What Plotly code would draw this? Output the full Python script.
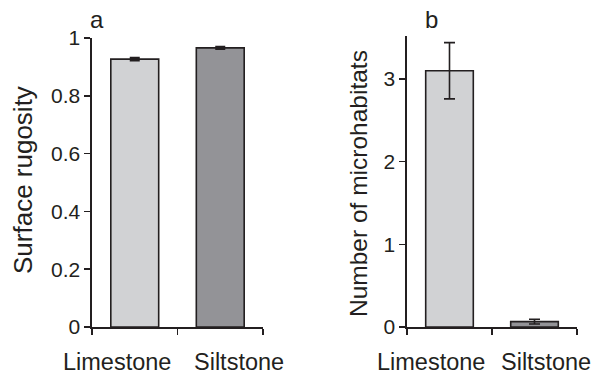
import plotly.graph_objects as go

categories = ["Limestone", "Siltstone"]
rugosity = [0.927, 0.966]
rugosity_err = [0.004, 0.003]
microhabitats = [3.10, 0.065]
microhabitats_err = [0.34, 0.028]
rugosity_ticks = [0, 0.2, 0.4, 0.6, 0.8, 1]
rugosity_ticktext = ["0", "0.2", "0.4", "0.6", "0.8", "1"]
micro_ticks = [0, 1, 2, 3]
bar_colors = ["#d1d2d4", "#939397"]

W, H = 596, 374
FONT = "Liberation Sans, Arial, Helvetica, sans-serif"
INK = "#231f20"


def px_x(a, b):
    return [a / W, b / W]


def px_y(top, bottom):
    return [(H - bottom) / H, (H - top) / H]


fig = go.Figure()

fig.add_trace(go.Bar(
    x=categories, y=rugosity, width=0.56,
    marker=dict(color=bar_colors, line=dict(color=INK, width=1.6)),
    error_y=dict(type="data", array=rugosity_err, color=INK, thickness=2.5, width=5),
    xaxis="x", yaxis="y", showlegend=False,
))
fig.add_trace(go.Bar(
    x=categories, y=microhabitats, width=0.56,
    marker=dict(color=bar_colors, line=dict(color=INK, width=1.6)),
    error_y=dict(type="data", array=microhabitats_err, color=INK, thickness=1.6, width=5.5),
    xaxis="x2", yaxis="y2", showlegend=False,
))

axis_common = dict(
    showline=True, linecolor=INK, linewidth=1.6, showgrid=False, zeroline=False,
    ticks="outside", ticklen=6, tickwidth=1.6, tickcolor=INK, automargin=False,
    tickfont=dict(family=FONT, size=21, color=INK),
)

fig.update_layout(
    template="none",
    width=W, height=H, margin=dict(l=0, r=0, t=0, b=0, autoexpand=False),
    paper_bgcolor="white", plot_bgcolor="white",
    bargap=0.44,
    xaxis=dict(domain=px_x(92, 263), type="category", range=[-0.5, 1.5],
               tickson="boundaries", showticklabels=False, anchor="y", **axis_common),
    yaxis=dict(domain=px_y(38, 327), range=[0, 1], tickvals=rugosity_ticks,
               ticktext=rugosity_ticktext, anchor="x", **axis_common),
    xaxis2=dict(domain=px_x(407, 577), type="category", range=[-0.5, 1.5],
                tickson="boundaries", showticklabels=False, anchor="y2", **axis_common),
    yaxis2=dict(domain=px_y(36, 327), range=[0, 3.52], tickvals=micro_ticks,
                anchor="x2", **axis_common),
)

annotations = []
# category labels
for xref, shifts in (("x", (-18, 19)), ("x2", (-19, 11))):
    for cat, s in zip(categories, shifts):
        annotations.append(dict(
            x=cat, xref=xref, y=(H - 362) / H, yref="paper", xshift=s,
            text=cat, showarrow=False, xanchor="center", yanchor="middle",
            font=dict(family=FONT, size=23.5, color=INK)))
# axis titles
annotations.append(dict(x=23 / W, y=(H - 180) / H, xref="paper", yref="paper",
                        text="Surface rugosity", textangle=-90, showarrow=False,
                        xanchor="center", yanchor="middle",
                        font=dict(family=FONT, size=26, color=INK)))
annotations.append(dict(x=358 / W, y=(H - 184) / H, xref="paper", yref="paper",
                        text="Number of microhabitats", textangle=-90, showarrow=False,
                        xanchor="center", yanchor="middle",
                        font=dict(family=FONT, size=24.5, color=INK)))
# panel letters
annotations.append(dict(x=97 / W, y=(H - 20) / H, xref="paper", yref="paper",
                        text="a", showarrow=False, xanchor="center", yanchor="middle",
                        font=dict(family=FONT, size=24, color=INK)))
annotations.append(dict(x=431 / W, y=(H - 20) / H, xref="paper", yref="paper",
                        text="b", showarrow=False, xanchor="center", yanchor="middle",
                        font=dict(family=FONT, size=24, color=INK)))

fig.update_layout(annotations=annotations)

fig.write_html(
    "out.html",
    config={"displayModeBar": False, "staticPlot": True},
    post_script="document.body.style.margin='0';document.body.style.overflow='hidden';",
)
